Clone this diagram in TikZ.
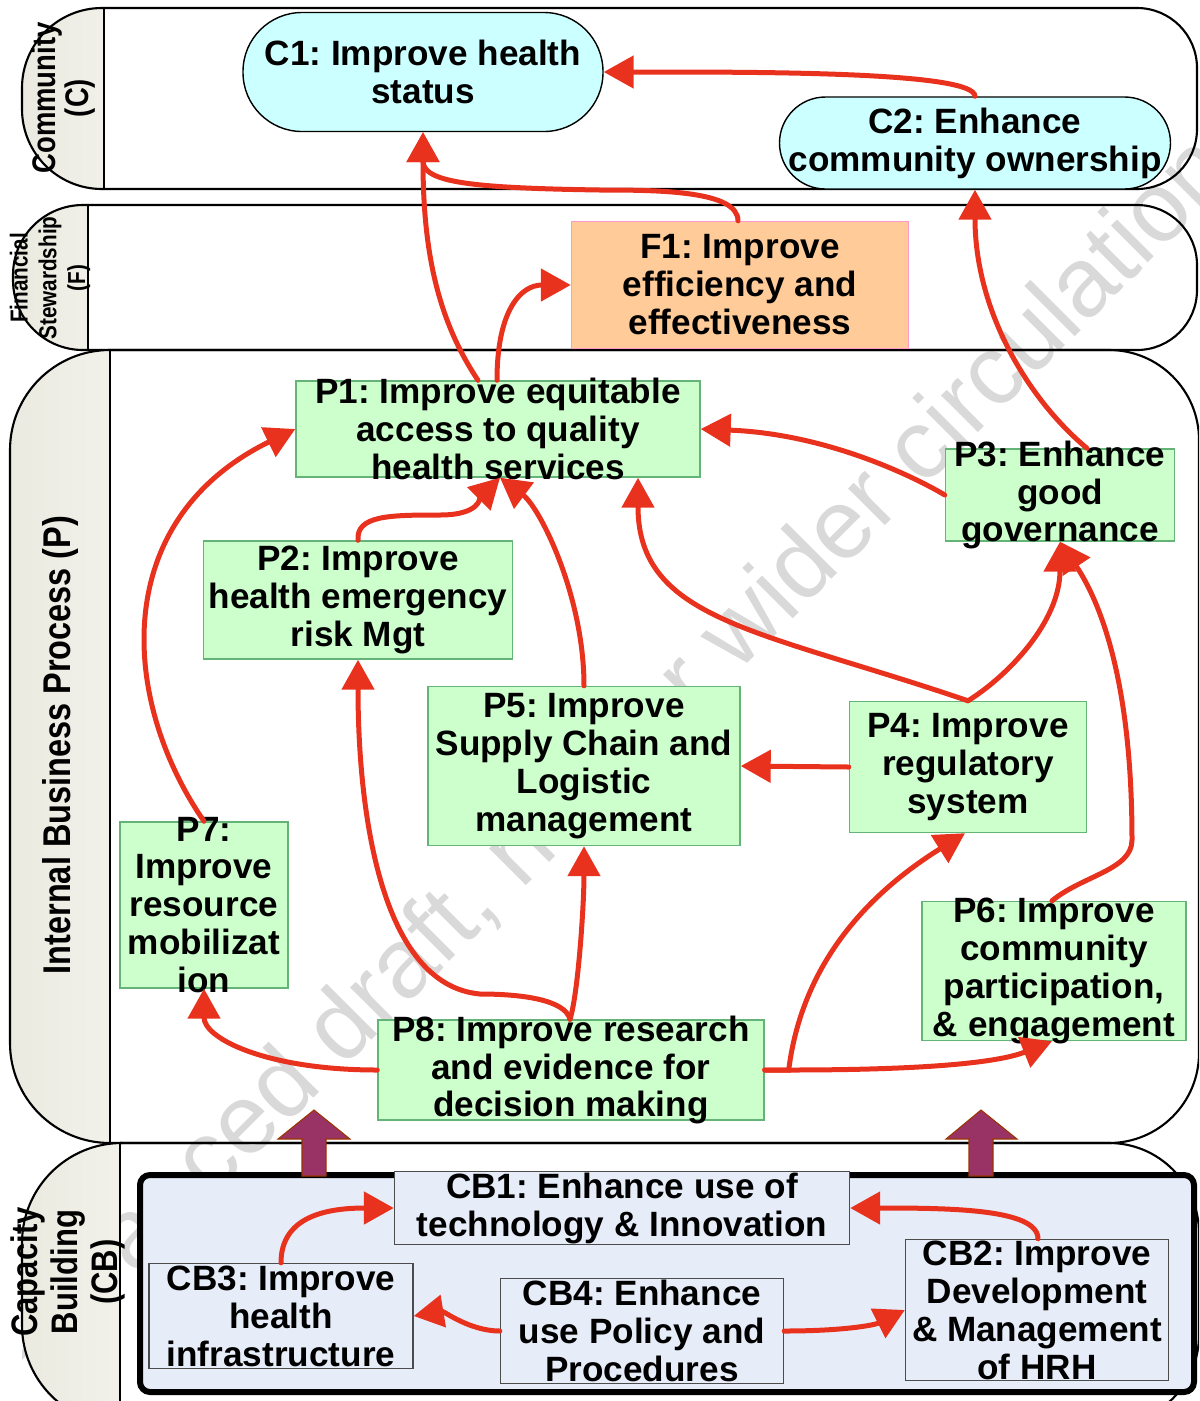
\documentclass[tikz,border=0pt]{standalone}
\usepackage{fontspec}
\setmainfont{Liberation Sans}
\newfontfamily\narrowfont{Liberation Sans}[FakeStretch=0.84]
\usetikzlibrary{arrows.meta,calc}
\definecolor{arrowred}{RGB}{232,50,30}
\definecolor{pfill}{RGB}{204,255,204}
\definecolor{pline}{RGB}{100,180,120}
\definecolor{cfill}{RGB}{204,255,255}
\definecolor{ffill}{RGB}{255,204,153}
\definecolor{fline}{RGB}{255,153,204}
\definecolor{cbfill}{RGB}{230,236,248}
\definecolor{capgray}{RGB}{234,234,224}
\definecolor{blockpurple}{RGB}{153,51,102}
\definecolor{blockedge}{RGB}{153,51,0}
\definecolor{wmgray}{RGB}{217,217,217}
\frenchspacing
\begin{document}
\begin{tikzpicture}[x=0.1mm, y=-0.1mm, >={Triangle[length=3mm,width=3.2mm]},
    lane/.style={draw=black, line width=0.6pt},
    capshade/.style={left color=capgray, right color=white},
    lanelbl/.style={font=\narrowfont\bfseries\fontsize{10.5}{11.3}\selectfont, align=center, rotate=90, inner sep=0pt},
    txt/.style={font=\bfseries\fontsize{10}{10.8}\selectfont, align=center, inner sep=0pt},
    cnode/.style={draw=black, fill=cfill, line width=0.4pt, inner sep=0pt},
    fnode/.style={draw=fline, fill=ffill, line width=0.4pt, inner sep=0pt},
    pnode/.style={draw=pline, fill=pfill, line width=0.4pt, inner sep=0pt},
    cbnode/.style={draw=black!70, fill=cbfill, line width=0.4pt, inner sep=0pt},
    link/.style={->, draw=arrowred, line width=0.5mm, line cap=round},
    block/.style={fill=blockpurple, draw=blockedge, line width=0.3pt}]
\useasboundingbox (0,0) rectangle (1199,1401);
\clip (0,0) rectangle (1199,1401);
\begin{scope}
\clip (22,0) rectangle (1199,1401);
\node[font=\fontsize{28}{30}\selectfont, text=wmgray, rotate=45, inner sep=0pt] (wm) at (605,765) {Advanced draft, not for wider circulation};
\end{scope}

\begin{scope}
\clip (0,0) rectangle (104,189);
\shade[capshade, rounded corners=8mm] (22,8) rectangle (300,189);
\end{scope}
\draw[lane, rounded corners=8mm] (104,8) -- (22,8) -- (22,189) -- (104,189);
\draw[lane, rounded corners=6mm] (104,8) -- (1197,8) -- (1197,189) -- (104,189);
\draw[lane] (104,8) -- (104,189);
\node[lanelbl, font=\narrowfont\bfseries\fontsize{9.3}{9.4}\selectfont] (lc) at (64,98) {Community\\(C)};

\begin{scope}
\clip (0,0) rectangle (88,350);
\shade[capshade, rounded corners=7mm] (13,205) rectangle (300,350);
\end{scope}
\draw[lane, rounded corners=7mm] (88,205) -- (13,205) -- (13,350) -- (88,350);
\draw[lane, rounded corners=6mm] (88,205) -- (1197,205) -- (1197,350) -- (88,350);
\draw[lane] (88,205) -- (88,350);
\node[lanelbl, font=\narrowfont\bfseries\fontsize{7}{8.2}\selectfont] (lf) at (50,278) {Financial\\Stewardship\\(F)};

\begin{scope}
\clip (0,0) rectangle (110,1143);
\shade[capshade, rounded corners=10mm] (10,350) rectangle (300,1143);
\end{scope}
\draw[lane, rounded corners=10mm] (110,350) -- (10,350) -- (10,1143) -- (110,1143);
\draw[lane, rounded corners=9mm] (110,350) -- (1199,350) -- (1199,1143) -- (110,1143);
\draw[lane] (110,350) -- (110,1143);
\node[lanelbl, font=\narrowfont\bfseries\fontsize{11}{11.3}\selectfont] (lp) at (61,745) {Internal Business Process (P)};

\begin{scope}
\clip (0,0) rectangle (120,1401);
\shade[capshade, rounded corners=10mm] (22,1143) rectangle (300,1425);
\end{scope}
\draw[lane, rounded corners=10mm] (120,1143) -- (22,1143) -- (22,1425) -- (120,1425);
\draw[lane, rounded corners=9mm] (120,1143) -- (1199,1143) -- (1199,1425) -- (120,1425);
\draw[lane] (120,1143) -- (120,1425);
\node[lanelbl] (lcb) at (68,1272) {Capacity\\Building\\(CB)};

\draw[line width=0.6mm, fill=cbfill, rounded corners=1mm] (140,1175) rectangle (1194,1392);
\draw[block] (302,1176) -- (302,1139) -- (278,1139) -- (314,1110) -- (350,1139) -- (326,1139) -- (326,1176) -- cycle;
\draw[block] (969,1176) -- (969,1139) -- (946,1139) -- (981,1110) -- (1017,1139) -- (993,1139) -- (993,1176) -- cycle;

\node[cnode, rounded corners=5.9mm, minimum width=36mm, minimum height=11.9mm] (c1) at (423,72) {};
\node[txt] (c1t) at (c1) {C1: Improve health\\status};
\node[cnode, rounded corners=4.6mm, minimum width=39.1mm, minimum height=9.2mm] (c2) at (975,143) {};
\node[txt] (c2t) at (c2) {C2: Enhance\\community ownership};
\node[fnode, minimum width=33.7mm, minimum height=12.7mm] (f1) at (740,285) {};
\node[txt] (f1t) at (f1) {F1: Improve\\efficiency and\\effectiveness};

\node[pnode, minimum width=40.4mm, minimum height=9.6mm] (p1) at (498,429) {};
\node[txt] (p1t) at (p1) {P1: Improve equitable\\access to quality\\health services};
\node[pnode, minimum width=30.9mm, minimum height=11.8mm] (p2) at (358,600) {};
\node[txt] (p2t) at (p2) {P2: Improve\\health emergency\\risk Mgt};
\node[pnode, minimum width=22.9mm, minimum height=9.2mm] (p3) at (1060,495) {};
\node[txt] (p3t) at (p3) {P3: Enhance\\good\\governance};
\node[pnode, minimum width=23.7mm, minimum height=13.1mm] (p4) at (968,767) {};
\node[txt] (p4t) at (p4) {P4: Improve\\regulatory\\system};
\node[pnode, minimum width=31.2mm, minimum height=15.9mm] (p5) at (584,766) {};
\node[txt] (p5t) at (p5) {P5: Improve\\Supply Chain and\\Logistic\\management};
\node[pnode, minimum width=26.4mm, minimum height=13.9mm] (p6) at (1054,971) {};
\node[txt] (p6t) at (p6) {P6: Improve\\community\\participation,\\\& engagement};
\node[pnode, minimum width=16.8mm, minimum height=16.6mm] (p7) at (204,905) {};
\node[txt] (p7t) at (p7) {P7:\\Improve\\resource\\mobilizat\\ion};
\node[pnode, minimum width=38.6mm, minimum height=10mm] (p8) at (571,1070) {};
\node[txt] (p8t) at (p8) {P8: Improve research\\and evidence for\\decision making};

\node[cbnode, minimum width=45.5mm, minimum height=7.3mm] (cb1) at (622,1208) {};
\node[txt] (cb1t) at (cb1) {CB1: Enhance use of\\technology \& Innovation};
\node[cbnode, minimum width=26.3mm, minimum height=14.1mm] (cb2) at (1037,1310) {};
\node[txt] (cb2t) at (cb2) {CB2: Improve\\Development\\\& Management\\of HRH};
\node[cbnode, minimum width=26.4mm, minimum height=10.5mm] (cb3) at (281,1316) {};
\node[txt] (cb3t) at (cb3) {CB3: Improve\\health\\infrastructure};
\node[cbnode, minimum width=28.3mm, minimum height=10.5mm] (cb4) at (642,1331) {};
\node[txt] (cb4t) at (cb4) {CB4: Enhance\\use Policy and\\Procedures};

\draw[link] (c2.north) .. controls +(0,-25) and +(150,0) .. (c1.east);
\draw[link] ($(f1.north)+(-2,0)$) .. controls +(0,-30) and +(60,0) .. (600,190) .. controls +(-130,-2) and +(0,50) .. (c1.south);
\draw[link] ($(p1.north)+(-20,0)$) .. controls +(-40,-60) and +(0,120) .. (c1.south);
\draw[link] ($(p1.north)+(-1,0)$) .. controls +(0,-70) and +(-50,0) .. (f1.west);
\draw[link] ($(p3.north)+(27,0)$) .. controls +(-60,-50) and +(0,120) .. (c2.south);
\draw[link] (p3.west) .. controls +(-25,-15) and +(130,5) .. (p1.east);
\draw[link] (p4.north) .. controls +(-208,-71) and +(0,143) .. ($(p1.south)+(140,0)$);
\draw[link] (p4.north) .. controls +(40,-25) and +(0,80) .. (p3.south);
\draw[link] (p4.west) -- (p5.east);
\draw[link] (p5.north) .. controls +(0,-90) and +(40,30) .. ($(p1.south)+(2,0)$);
\draw[link] (p2.north) .. controls +(-2,-25) and +(-50,0) .. (440,515) .. controls +(40,0) and +(-20,20) .. ($(p1.south)+(2,0)$);
\draw[link] ($(p8.north)+(-1,0)$) .. controls +(-5,-20) and +(40,0) .. (480,994) .. controls +(-100,-9) and +(0,150) .. (p2.south);
\draw[link] ($(p8.north)+(-1,0)$) .. controls +(8,-25) and +(0,60) .. (p5.south);
\draw[link] (p8.west) .. controls +(-110,0) and +(0,50) .. (p7.south);
\draw[link] (p7.north) .. controls +(-84,-122) and +(-186,91) .. (p1.west);
\draw[link] (p8.east) -- +(24,0) .. controls +(15,-120) and +(-80,50) .. ($(p4.south)+(-3,0)$);
\draw[link] (p8.east) -- +(24,0) .. controls +(150,0) and +(-50,20) .. ($(p6.south)+(-2,0)$);
\draw[link] ($(p6.north)+(-2,0)$) .. controls +(30,-25) and +(0,30) .. (1132,840) .. controls +(0,-160) and +(40,60) .. (p3.south);

\draw[link] (cb3.north) .. controls +(0,-45) and +(-70,0) .. (cb1.west);
\draw[link] ($(cb2.north)+(1,0)$) .. controls +(0,-30) and +(100,0) .. (cb1.east);
\draw[link] (cb4.west) .. controls +(-30,0) and +(30,-5) .. (cb3.east);
\draw[link] (cb4.east) .. controls +(60,0) and +(-30,15) .. (cb2.west);
\end{tikzpicture}
\end{document}
